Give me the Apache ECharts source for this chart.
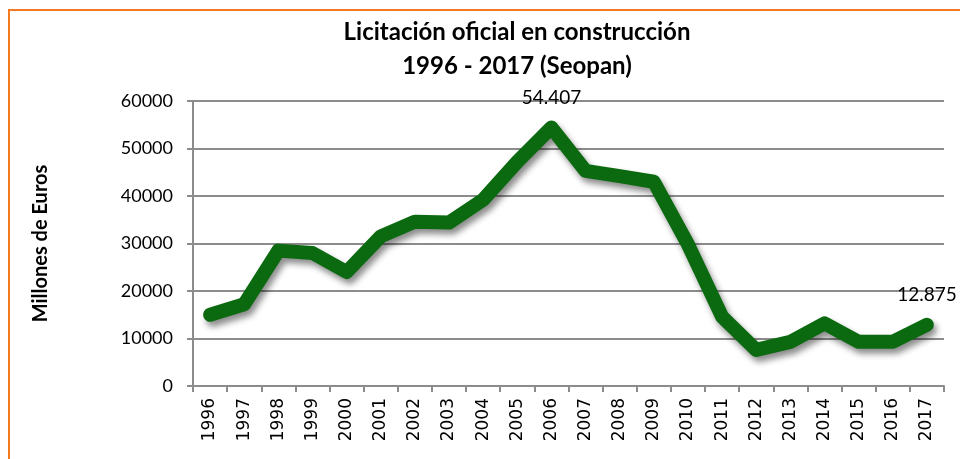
<!DOCTYPE html>
<html>
<head>
<meta charset="utf-8">
<script src="https://cdn.jsdelivr.net/npm/echarts@6/dist/echarts.min.js"></script>
<style>
  html, body { margin: 0; padding: 0; background: #fff; }
  #chart { width: 960px; height: 459px; }
</style>
</head>
<body>
<div id="chart"></div>
<script>
// datos
var years = ['1996','1997','1998','1999','2000','2001','2002','2003','2004','2005','2006',
             '2007','2008','2009','2010','2011','2012','2013','2014','2015','2016','2017'];
var licitacion = [15000, 17200, 28500, 28000, 24000, 31500, 34600, 34400, 39200, 47200, 54407,
                  45300, 44200, 43000, 29800, 14600, 7600, 9300, 13200, 9300, 9300, 12875];
var labelled = ['2006', '2017'];   // puntos con etiqueta
var yTicks = [0, 10000, 20000, 30000, 40000, 50000, 60000];

function fmt(v) {
    return String(v).replace(/\B(?=(\d{3})+(?!\d))/g, '.');
}

var seriesData = licitacion.map(function (v, i) {
    var item = { value: v };
    if (labelled.indexOf(years[i]) >= 0) {
        item.label = { show: true };
    }
    return item;
});

var myChart = echarts.init(document.getElementById('chart'));
myChart.setOption({
    animation: false,
    backgroundColor: '#fff',
    graphic: [{
        type: 'rect',
        shape: { x: 9, y: 10, width: 1000, height: 500 },
        style: { fill: 'none', stroke: '#f47a22', lineWidth: 2 },
        z: 100
    }],
    title: {
        text: 'Licitación oficial en construcción\n1996 - 2017 (Seopan)',
        left: 512,
        top: 10,
        textAlign: 'center',
        textStyle: {
            fontFamily: 'Lato',
            fontWeight: 'bold',
            fontSize: 24,
            lineHeight: 34,
            color: '#000'
        }
    },
    grid: {
        left: 193,
        right: 16,
        top: 101,
        bottom: 73,
        containLabel: false
    },
    xAxis: {
        type: 'category',
        data: years,
        boundaryGap: true,
        axisLine: { lineStyle: { color: '#8c8c8c', width: 2 } },
        axisTick: { show: true, length: 6, alignWithLabel: false, lineStyle: { color: '#8c8c8c', width: 2 } },
        axisLabel: {
            rotate: 90,
            margin: 12,
            fontFamily: 'DejaVu Sans',
            fontSize: 17,
            color: '#000',
            interval: 0
        }
    },
    yAxis: {
        type: 'value',
        min: yTicks[0],
        max: yTicks[yTicks.length - 1],
        interval: 10000,
        name: 'Millones de Euros',
        nameLocation: 'middle',
        nameGap: 142,
        nameRotate: 90,
        nameTextStyle: {
            fontFamily: 'Lato',
            fontWeight: 'bold',
            fontSize: 20,
            color: '#000'
        },
        axisLine: { show: true, lineStyle: { color: '#8c8c8c', width: 2 } },
        axisTick: { show: true, length: 6, lineStyle: { color: '#8c8c8c', width: 2 } },
        splitLine: { show: true, lineStyle: { color: '#8c8c8c', width: 2 } },
        axisLabel: {
            margin: 20,
            fontFamily: 'Lato',
            fontSize: 18,
            color: '#000',
            formatter: function (v) { return String(v); }
        }
    },
    series: [{
        type: 'line',
        data: seriesData,
        showSymbol: true,
        symbol: 'circle',
        symbolSize: 1,
        itemStyle: { color: 'rgba(0,0,0,0)' },
        lineStyle: {
            color: '#0b6a10',
            width: 14,
            cap: 'round',
            join: 'round',
            shadowColor: 'rgba(0,0,0,0.45)',
            shadowBlur: 6,
            shadowOffsetX: 3,
            shadowOffsetY: 5
        },
        label: {
            show: false,
            position: 'top',
            distance: 20,
            fontFamily: 'Lato',
            fontSize: 19,
            color: '#000',
            formatter: function (p) { return fmt(p.value); }
        },
        labelLayout: { hideOverlap: false }
    }]
});
</script>
</body>
</html>
